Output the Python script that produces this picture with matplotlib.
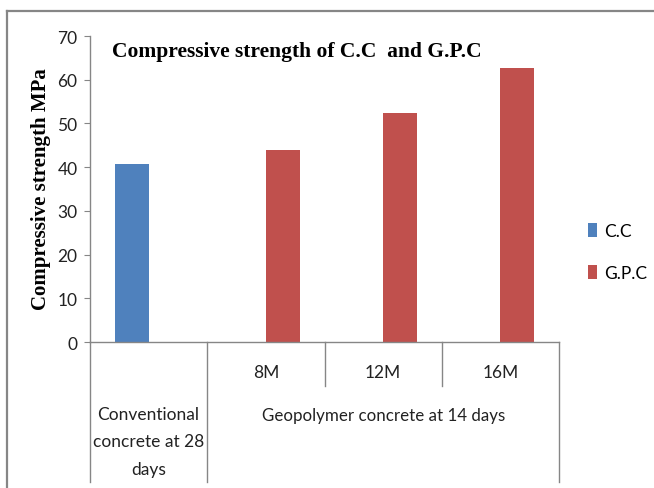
import matplotlib
matplotlib.use("Agg")
import matplotlib.pyplot as plt
from matplotlib.patches import Patch
from matplotlib.lines import Line2D
import matplotlib.transforms as mtransforms

# === Data ===
categories = ["", "8M", "12M", "16M"]
groups = ["Conventional\nconcrete at 28\ndays", "Geopolymer concrete at 14 days"]
group_spans = [(0, 1), (1, 4)]
cc_values = [40.8, 0, 0, 0]
gpc_values = [0, 44.0, 52.3, 62.7]
series_names = ["C.C", "G.P.C"]
colors = ["#4F81BD", "#C0504D"]

label_font = "Lato"
serif_font = "Liberation Serif"
grey = "#868686"
fs = 12.5

fig = plt.figure(figsize=(6.54, 4.89), dpi=100)
ax = fig.add_axes([90 / 654, 1 - 343 / 489, (559 - 90) / 654, (343 - 37) / 489])

# === Bars ===
w = 0.29
x = [i + 0.5 for i in range(len(categories))]
for i in range(len(categories)):
    if cc_values[i]:
        ax.bar(x[i] - w / 2, cc_values[i], width=w, color=colors[0])
    if gpc_values[i]:
        ax.bar(x[i] + w / 2, gpc_values[i], width=w, color=colors[1])

ax.set_xlim(0, len(categories))
ax.set_ylim(0, 70)
ax.set_yticks(range(0, 71, 10))
ax.set_xticks([])
for s in ["top", "right"]:
    ax.spines[s].set_visible(False)
for s in ["left", "bottom"]:
    ax.spines[s].set_color(grey)
    ax.spines[s].set_linewidth(1)
ax.tick_params(axis="y", direction="out", length=4, color=grey, pad=5,
               labelsize=fs, labelcolor="#222222")
for t in ax.get_yticklabels():
    t.set_family(label_font)

# === Multi-level category axis ===
trans = mtransforms.blended_transform_factory(ax.transData, ax.transAxes)
long_lines = [0, 1, 4]
short_lines = [2, 3]
for xv in long_lines:
    ax.plot([xv, xv], [0, -0.4575], color=grey, lw=1, transform=trans, clip_on=False)
for xv in short_lines:
    ax.plot([xv, xv], [0, -0.1438], color=grey, lw=1, transform=trans, clip_on=False)

for i, c in enumerate(categories):
    if c:
        ax.text(x[i], -0.098, c, transform=trans, ha="center", va="center",
                fontsize=fs, family=label_font, color="#222222")

ax.text(sum(group_spans[0]) / 2, -0.325, groups[0], transform=trans, ha="center",
        va="center", fontsize=fs, family=label_font, color="#222222",
        linespacing=1.85)
ax.text(sum(group_spans[1]) / 2, -0.239, groups[1], transform=trans, ha="center",
        va="center", fontsize=12.2, family=label_font, color="#222222")

# === Titles ===
fig.text(297 / 654, 1 - 52 / 489, "Compressive strength of C.C  and G.P.C",
         ha="center", va="center", fontsize=15.5, fontweight="bold",
         family=serif_font)
fig.text(41 / 654, 1 - 189 / 489, "Compressive strength MPa", rotation=90,
         ha="center", va="center", fontsize=15, fontweight="bold",
         family=serif_font)

# === Legend ===
handles = [Patch(facecolor=colors[0]), Patch(facecolor=colors[1])]
fig.legend(handles, series_names, loc="center left",
           bbox_to_anchor=(572 / 654, 1 - 253 / 489), frameon=False,
           handlelength=0.55, handleheight=0.9, handletextpad=0.4,
           labelspacing=1.5, prop={"family": label_font, "size": fs})

# === Outer border (chart area) ===
fig.add_artist(Line2D([7 / 654, 1], [1 - 12 / 489, 1 - 12 / 489], color=grey, lw=1.6,
                      transform=fig.transFigure))
fig.add_artist(Line2D([7 / 654, 7 / 654], [0, 1 - 12 / 489], color=grey, lw=1.6,
                      transform=fig.transFigure))

fig.savefig("out.png", dpi=100)
